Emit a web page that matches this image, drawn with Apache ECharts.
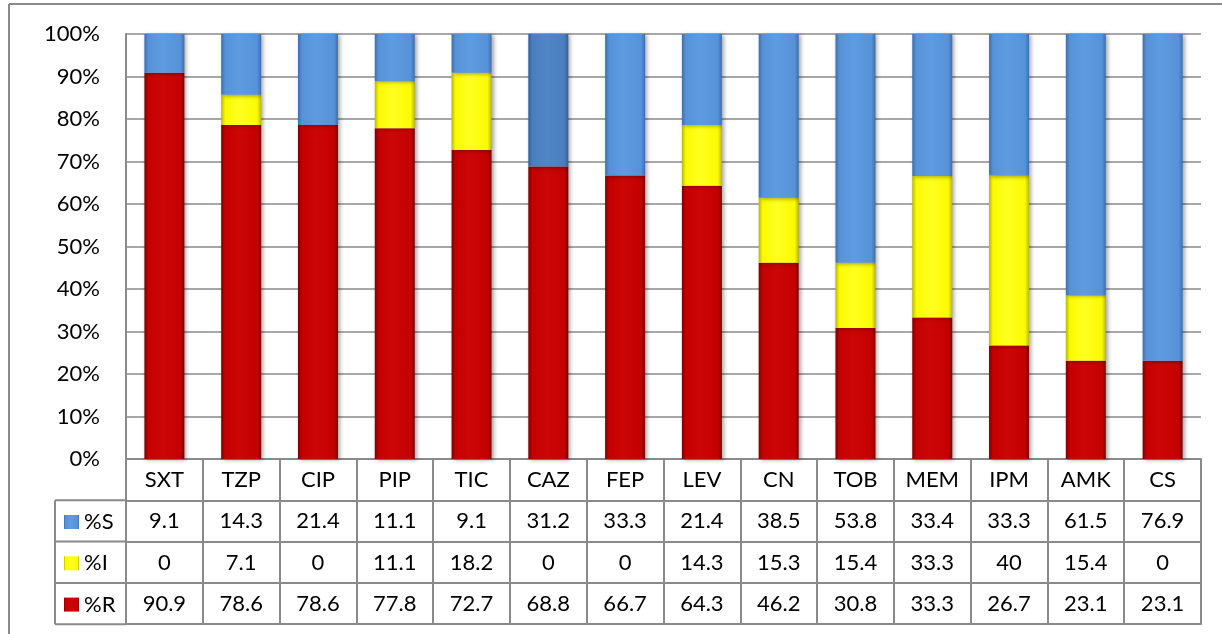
<!DOCTYPE html>
<html>
<head>
<meta charset="utf-8">
<script src="https://cdn.jsdelivr.net/npm/echarts@6/dist/echarts.min.js"></script>
<style>
  html, body { margin: 0; padding: 0; background: #fff; }
  #chart { width: 1222px; height: 634px; }
</style>
</head>
<body>
<div id="chart"></div>
<script>
// Antibiotic susceptibility profile: %R / %I / %S per drug
const categories = ['SXT', 'TZP', 'CIP', 'PIP', 'TIC', 'CAZ', 'FEP', 'LEV', 'CN', 'TOB', 'MEM', 'IPM', 'AMK', 'CS'];
const pctS = [9.1, 14.3, 21.4, 11.1, 9.1, 31.2, 33.3, 21.4, 38.5, 53.8, 33.4, 33.3, 61.5, 76.9];
const pctI = [0, 7.1, 0, 11.1, 18.2, 0, 0, 14.3, 15.3, 15.4, 33.3, 40, 15.4, 0];
const pctR = [90.9, 78.6, 78.6, 77.8, 72.7, 68.8, 66.7, 64.3, 46.2, 30.8, 33.3, 26.7, 23.1, 23.1];
const seriesNames = ['%S', '%I', '%R'];

const FONT = 'Lato';
const FONT_SIZE = 22;
const LINE = '#8a8a8a';
const ROW = 41.3;          // height of one table row
const GRID_BOTTOM = 175;   // plot bottom edge sits at 634 - 175 = 459

// Horizontal gradient giving the bars a rounded/bevelled look
function bevel(edge, mid, light) {
  return new echarts.graphic.LinearGradient(0, 0, 1, 0, [
    { offset: 0, color: edge },
    { offset: 0.1, color: mid },
    { offset: 0.45, color: light },
    { offset: 0.9, color: mid },
    { offset: 1, color: edge }
  ]);
}
const redFill = bevel('#7d0000', '#c40000', '#cc0606');
const yellowFill = bevel('#b8b800', '#fafa00', '#ffff20');
const blueFill = bevel('#3c6fae', '#5692d8', '#5e9be0');
const blueDarkFill = bevel('#335f96', '#4a7fbf', '#5086c6');

const barShadow = {
  shadowColor: 'rgba(0,0,0,0.35)',
  shadowBlur: 4,
  shadowOffsetX: 2,
  shadowOffsetY: 1
};

// One table row below the plot: a category axis whose labels show a value list
function tableAxis(offset, labels) {
  return {
    type: 'category',
    data: categories,
    position: 'bottom',
    offset: offset,
    axisLine: { show: true, lineStyle: { color: LINE, width: 2 } },
    axisTick: { show: labels !== null, interval: 0, length: ROW, lineStyle: { color: LINE, width: 2 } },
    axisLabel: {
      show: labels !== null,
      interval: 0,
      margin: 10,
      fontFamily: FONT,
      fontSize: FONT_SIZE,
      color: '#000',
      formatter: (v, i) => labels === null ? '' : String(labels[i])
    },
    splitLine: { show: false }
  };
}

const chart = echarts.init(document.getElementById('chart'));

const option = {
  animation: false,
  backgroundColor: '#fff',
  grid: { left: 126, right: 21, top: 34, bottom: GRID_BOTTOM, containLabel: false },
  legend: {
    data: seriesNames,
    orient: 'vertical',
    left: 64,
    top: 511,
    padding: 0,
    itemWidth: 15,
    itemHeight: 14,
    itemGap: ROW - FONT_SIZE,
    icon: 'rect',
    selectedMode: false,
    textStyle: { fontFamily: FONT, fontSize: FONT_SIZE, color: '#000', lineHeight: FONT_SIZE, padding: [0, 0, 0, 0] }
  },
  xAxis: [
    tableAxis(0, categories),
    tableAxis(ROW, pctS),
    tableAxis(ROW * 2, pctI),
    tableAxis(ROW * 3, pctR),
    tableAxis(ROW * 4, null)
  ],
  yAxis: {
    type: 'value',
    min: 0,
    max: 100,
    interval: 10,
    axisLine: { show: true, lineStyle: { color: LINE, width: 2 } },
    axisTick: { show: false },
    axisLabel: {
      margin: 26,
      fontFamily: FONT,
      fontSize: FONT_SIZE,
      color: '#000',
      formatter: '{value}%'
    },
    splitLine: { show: true, lineStyle: { color: LINE, width: 1.5 } }
  },
  series: [
    {
      name: '%R',
      type: 'bar',
      stack: 'total',
      barWidth: 40,
      data: pctR,
      itemStyle: Object.assign({ color: redFill }, barShadow)
    },
    {
      name: '%I',
      type: 'bar',
      stack: 'total',
      barWidth: 40,
      data: pctI,
      itemStyle: Object.assign({ color: yellowFill }, barShadow)
    },
    {
      name: '%S',
      type: 'bar',
      stack: 'total',
      barWidth: 40,
      data: pctS.map((v, i) => categories[i] === 'CAZ'
        ? { value: v, itemStyle: { color: blueDarkFill } }
        : v),
      itemStyle: Object.assign({ color: blueFill }, barShadow)
    }
  ],
  graphic: [
    // outer frame (top and left edges)
    { type: 'line', shape: { x1: 9, y1: 4, x2: 1222, y2: 4 }, style: { stroke: LINE, lineWidth: 2 }, silent: true },
    { type: 'line', shape: { x1: 9, y1: 4, x2: 9, y2: 634 }, style: { stroke: LINE, lineWidth: 2 }, silent: true },
    // legend column of the data table
    { type: 'line', shape: { x1: 55, y1: 459 + ROW, x2: 126, y2: 459 + ROW }, style: { stroke: LINE, lineWidth: 2 }, silent: true },
    { type: 'line', shape: { x1: 55, y1: 459 + ROW * 2, x2: 126, y2: 459 + ROW * 2 }, style: { stroke: LINE, lineWidth: 2 }, silent: true },
    { type: 'line', shape: { x1: 55, y1: 459 + ROW * 3, x2: 126, y2: 459 + ROW * 3 }, style: { stroke: LINE, lineWidth: 2 }, silent: true },
    { type: 'line', shape: { x1: 55, y1: 459 + ROW * 4, x2: 126, y2: 459 + ROW * 4 }, style: { stroke: LINE, lineWidth: 2 }, silent: true },
    { type: 'line', shape: { x1: 55, y1: 459 + ROW, x2: 55, y2: 459 + ROW * 4 }, style: { stroke: LINE, lineWidth: 2 }, silent: true }
  ]
};

chart.setOption(option);
</script>
</body>
</html>
